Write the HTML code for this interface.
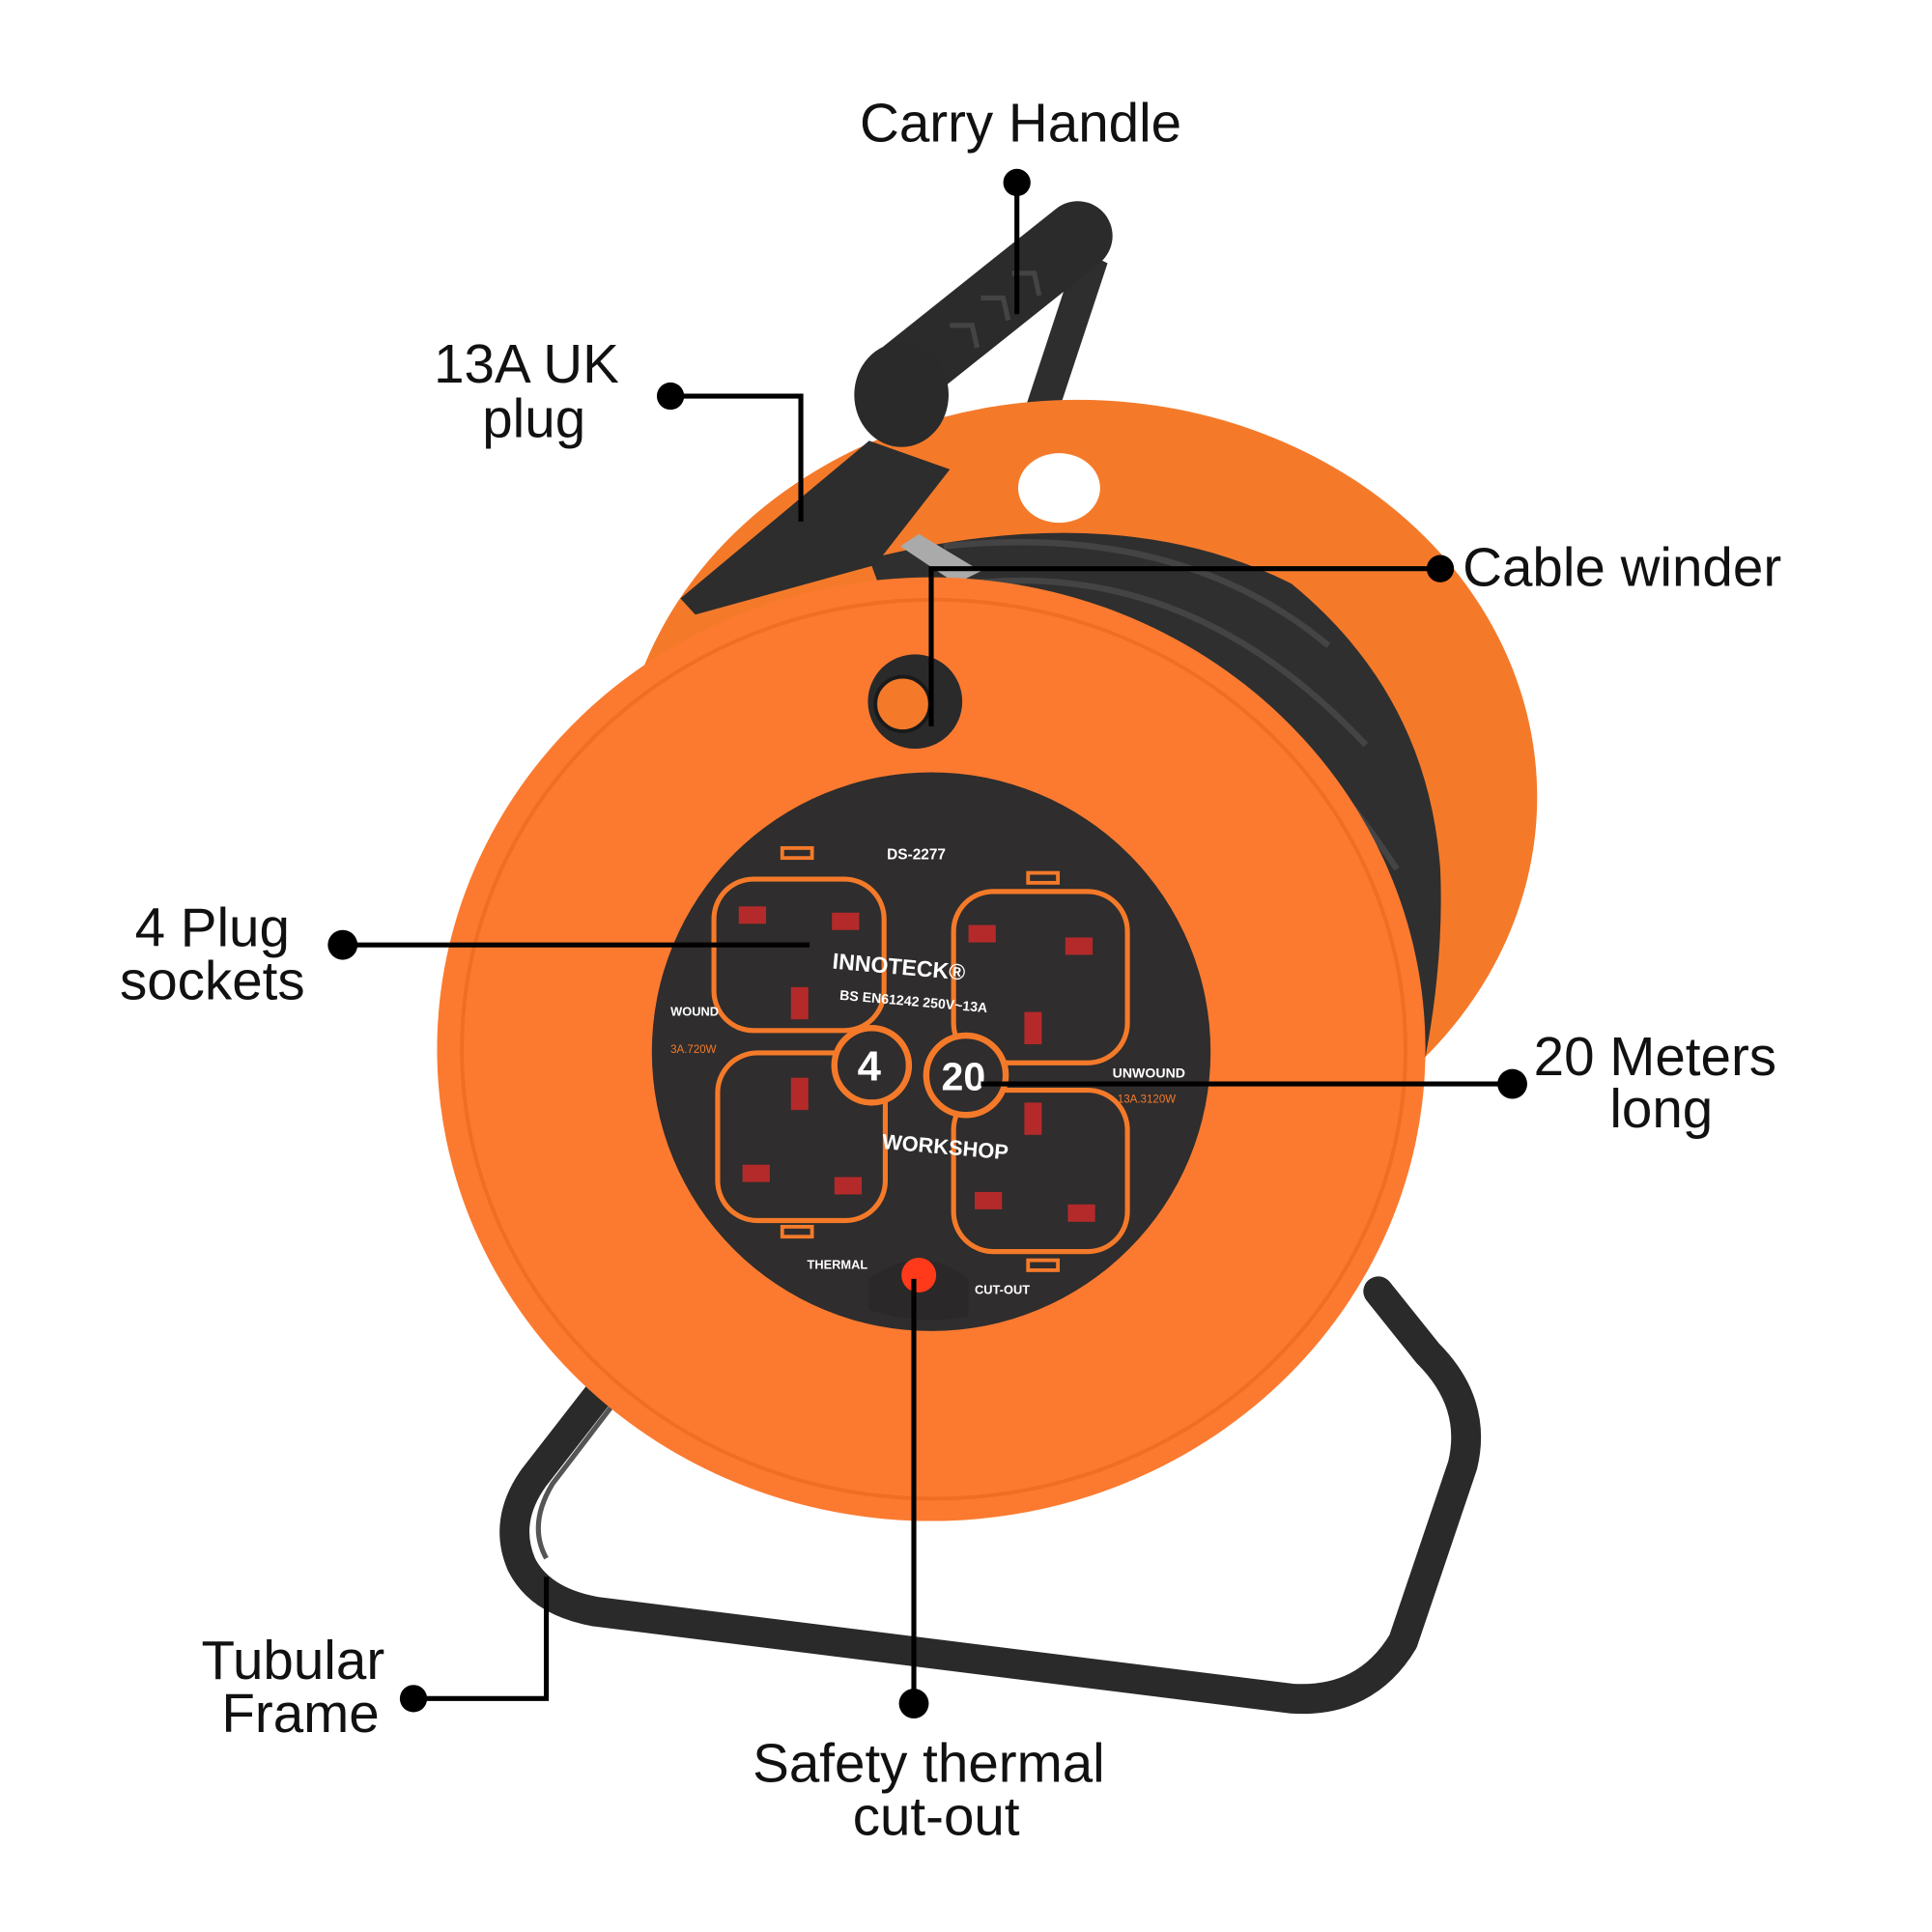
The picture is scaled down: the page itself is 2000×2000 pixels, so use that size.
<!DOCTYPE html>
<html><head><meta charset="utf-8"><style>
html,body{margin:0;padding:0;background:#fff;}
svg{display:block;}
text{font-family:"Liberation Sans",sans-serif;}
</style></head><body>
<svg width="2000" height="2000" viewBox="0 0 1556 1556" xmlns="http://www.w3.org/2000/svg">
<rect width="1556" height="1556" fill="#fff"/>
<!-- frame -->
<path d="M500 1100 L430 1190 Q405 1225 420 1260 Q435 1290 480 1298 L1040 1368 Q1100 1372 1130 1322 L1178 1180 Q1190 1130 1150 1090 L1110 1040" fill="none" stroke="#2a2a2a" stroke-width="24" stroke-linejoin="round" stroke-linecap="round"/>
<path d="M510 1110 L445 1195 Q425 1228 440 1255" fill="none" stroke="#555" stroke-width="4"/>
<!-- handle arm -->
<path d="M822 340 L868 200 L892 212 L848 345 Z" fill="#2e2e2e"/>
<!-- back disk -->
<ellipse cx="868" cy="642" rx="370" ry="320" fill="#f47a2a"/>
<ellipse cx="853" cy="393" rx="33" ry="28" fill="#fff"/>
<!-- cable drum -->
<path d="M700 450 Q900 400 1040 470 Q1150 560 1160 700 Q1165 820 1120 960 L900 1000 Z" fill="#2f2f2f"/>
<path d="M760 440 Q950 420 1070 520 M780 470 Q960 450 1100 600 M800 500 Q980 480 1125 700" fill="none" stroke="#444" stroke-width="5"/>
<!-- handle grip -->
<path d="M730 300 L868 190" stroke="#2b2b2b" stroke-width="56" stroke-linecap="round"/>
<path d="M790 240 l18 0 l4 18 M815 220 l18 0 l4 18 M765 262 l18 0 l4 18" stroke="#444" stroke-width="4" fill="none"/>
<ellipse cx="726" cy="318" rx="38" ry="42" fill="#2a2a2a"/>
<!-- plug -->
<path d="M700 355 L765 378 L705 455 L560 495 L548 482 Z" fill="#2d2d2d"/>
<path d="M740 430 L790 460 L770 470 L725 440 Z" fill="#aaa"/>
<!-- front disk -->
<ellipse cx="750" cy="845" rx="398" ry="380" fill="#fb7a30"/>
<ellipse cx="752" cy="845" rx="380" ry="362" fill="none" stroke="#f06d22" stroke-width="3"/>
<!-- winder knob -->
<circle cx="737" cy="565" r="38" fill="#2a2a2a"/>
<circle cx="727" cy="567" r="22" fill="#f47a2a" stroke="#1a1a1a" stroke-width="3"/>
<!-- panel -->
<circle cx="750" cy="847" r="225" fill="#2f2d2d"/>
<path d="M700 1030 Q740 1000 780 1030 L780 1060 Q740 1068 700 1055 Z" fill="#2a2828"/>
<g fill="none" stroke="#f47a2a" stroke-width="4">
<rect x="575" y="708" width="137" height="122" rx="32"/>
<rect x="768" y="718" width="140" height="138" rx="32"/>
<rect x="578" y="848" width="135" height="135" rx="32"/>
<rect x="768" y="878" width="140" height="130" rx="32"/>
</g>
<g fill="#b42a2a">
<rect x="595" y="730" width="22" height="14"/><rect x="670" y="735" width="22" height="14"/><rect x="637" y="795" width="14" height="26"/>
<rect x="780" y="745" width="22" height="14"/><rect x="858" y="755" width="22" height="14"/><rect x="825" y="815" width="14" height="26"/>
<rect x="637" y="868" width="14" height="26"/><rect x="598" y="938" width="22" height="14"/><rect x="672" y="948" width="22" height="14"/>
<rect x="825" y="888" width="14" height="26"/><rect x="785" y="960" width="22" height="14"/><rect x="860" y="970" width="22" height="14"/>
</g>
<circle cx="702" cy="858" r="30" fill="#2f2d2d" stroke="#f47a2a" stroke-width="5"/>
<circle cx="778" cy="866" r="32" fill="#2f2d2d" stroke="#f47a2a" stroke-width="5"/>
<text x="700" y="870" font-size="34" font-weight="bold" fill="#fff" text-anchor="middle">4</text>
<text x="776" y="878" font-size="32" font-weight="bold" fill="#fff" text-anchor="middle">20</text>
<text x="738" y="692" font-size="12" font-weight="bold" fill="#fff" text-anchor="middle">DS-2277</text>
<text x="670" y="780" font-size="18" font-weight="bold" fill="#fff" transform="rotate(5 670 780)">INNOTECK®</text>
<text x="676" y="805" font-size="11" font-weight="bold" fill="#fff" transform="rotate(5 676 805)">BS EN61242 250V~13A</text>
<text x="710" y="925" font-size="17" font-weight="bold" fill="#fff" transform="rotate(5 710 925)">WORKSHOP</text>
<text x="540" y="818" font-size="10" font-weight="bold" fill="#fff">WOUND</text>
<text x="540" y="848" font-size="9" fill="#f47a2a">3A.720W</text>
<text x="896" y="868" font-size="11" font-weight="bold" fill="#fff">UNWOUND</text>
<text x="900" y="888" font-size="9" fill="#f47a2a">13A.3120W</text>
<text x="650" y="1022" font-size="10" font-weight="bold" fill="#fff">THERMAL</text>
<text x="785" y="1042" font-size="10" font-weight="bold" fill="#fff">CUT-OUT</text>
<g fill="none" stroke="#f47a2a" stroke-width="3">
<rect x="630" y="683" width="24" height="8"/><rect x="828" y="703" width="24" height="8"/><rect x="630" y="988" width="24" height="8"/><rect x="828" y="1015" width="24" height="8"/>
</g>
<circle cx="740" cy="1027" r="14" fill="#ff3a1a"/>
<!-- callouts -->
<g stroke="#000" stroke-width="4" fill="none">
<path d="M819 147 L819 253"/>
<path d="M540 319 L645 319 L645 420"/>
<path d="M1160 458 L750 458 L750 585"/>
<path d="M276 761 L652 761"/>
<path d="M1218 873 L790 873"/>
<path d="M333 1368 L440 1368 L440 1270"/>
<path d="M736 1372 L736 1030"/>
</g>
<g fill="#000">
<circle cx="819" cy="147" r="11"/><circle cx="540" cy="319" r="11"/><circle cx="1160" cy="458" r="11"/>
<circle cx="276" cy="761" r="12"/><circle cx="1218" cy="873" r="12"/><circle cx="333" cy="1368" r="11"/><circle cx="736" cy="1372" r="12"/>
</g>
<g font-size="44" fill="#111">
<text x="822" y="114" text-anchor="middle">Carry Handle</text>
<text x="424" y="308" text-anchor="middle">13A UK</text>
<text x="430" y="352" text-anchor="middle">plug</text>
<text x="1178" y="472">Cable winder</text>
<text x="171" y="762" text-anchor="middle">4 Plug</text>
<text x="171" y="805" text-anchor="middle">sockets</text>
<text x="1333" y="866" text-anchor="middle">20 Meters</text>
<text x="1338" y="908" text-anchor="middle">long</text>
<text x="236" y="1352" text-anchor="middle">Tubular</text>
<text x="242" y="1395" text-anchor="middle">Frame</text>
<text x="748" y="1435" text-anchor="middle">Safety thermal</text>
<text x="754" y="1478" text-anchor="middle">cut-out</text>
</g>
</svg>
</body></html>
